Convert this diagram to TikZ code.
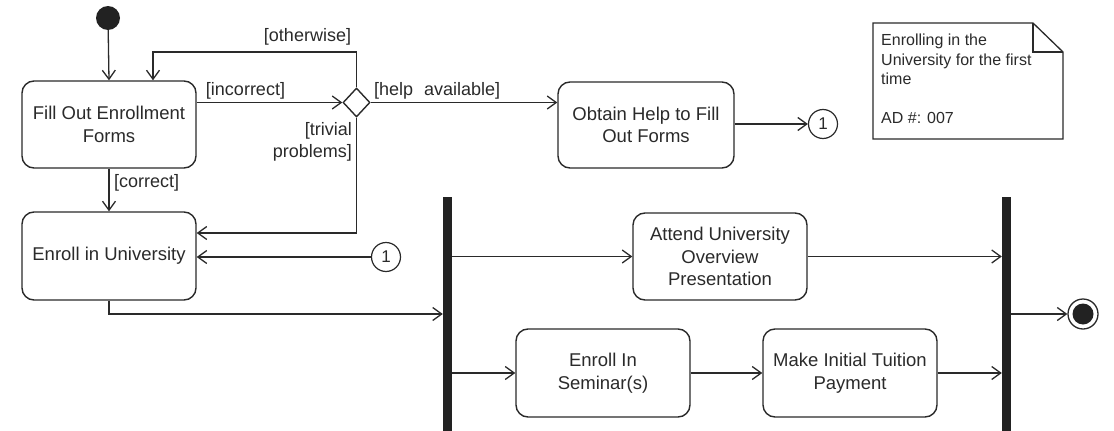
\documentclass[tikz,border=0pt]{standalone}
\usepackage{fontspec}
\setmainfont{Liberation Sans}
\usetikzlibrary{arrows.meta,shapes.geometric}
\definecolor{ink}{HTML}{2A2A2A}
\definecolor{barfill}{HTML}{222222}
\tikzset{
  flow/.style={draw=ink, line width=1.3pt, -{Straight Barb[length=9pt,width=13pt,line width=1.3pt]}},
  wire/.style={draw=ink, line width=1.3pt},
  action/.style={draw=ink, line width=1.4pt, rounded corners=12pt, align=center,
    text=ink, font=\fontsize{18.5}{22.5}\selectfont, inner sep=0pt},
  guard/.style={text=ink, font=\fontsize{18}{22}\selectfont, inner sep=0pt},
  syncbar/.style={fill=barfill, draw=none, minimum width=9pt, minimum height=234pt, inner sep=0pt},
  decision/.style={diamond, draw=ink, line width=1.4pt, minimum width=27pt, minimum height=29pt, inner sep=0pt},
  connector/.style={circle, draw=ink, line width=1.2pt, minimum size=29pt, inner sep=0pt,
    text=ink, font=\fontsize{17}{17}\selectfont},
}
\begin{document}
\begin{tikzpicture}[x=1pt,y=-1pt]
\useasboundingbox (0,0) rectangle (1114,431);

% start and end
\node[circle, fill=barfill, minimum size=24pt, inner sep=0pt] (init) at (108,18) {};
\node[circle, draw=ink, line width=1.3pt, minimum size=30pt, inner sep=0pt] (final) at (1083,314) {};
\node[circle, fill=barfill, minimum size=21pt, inner sep=0pt] (finalcore) at (1083,314) {};

% actions
\node[action, minimum width=174pt, minimum height=87pt] (fill) at (109,124.5) {Fill Out Enrollment\\Forms};
\node[action, minimum width=174pt, minimum height=88pt] (enroll) at (109,256) {Enroll in University};
\node[action, minimum width=176pt, minimum height=86pt] (help) at (646,125) {Obtain Help to Fill\\Out Forms};
\node[action, minimum width=174pt, minimum height=87pt] (attend) at (720,256.5) {Attend University\\Overview\\Presentation};
\node[action, minimum width=174pt, minimum height=88pt] (seminar) at (603,373) {Enroll In\\Seminar(s)};
\node[action, minimum width=174pt, minimum height=88pt] (payment) at (850,373) {Make Initial Tuition\\Payment};

% decision, connectors, fork and join
\node[decision] (dec) at (356.5,102.5) {};
\node[connector] (conout) at (823,124) {1};
\node[connector] (conin) at (386,257) {1};
\node[syncbar] (fork) at (447.5,314) {};
\node[syncbar] (join) at (1006.5,314) {};

% routing points
\coordinate (owc) at (153,52);
\coordinate (tpc) at (356.5,233);

% transitions
\draw[flow] (init) -- (fill.north);
\draw[flow] (dec.north) |- (owc) -- (owc |- fill.north);
\draw[flow] (fill.east |- dec.west) -- (dec.west);
\draw[flow] (dec.east) -- (help.west |- dec.east);
\draw[flow] (help.east |- conout.west) -- (conout.west);
\draw[flow] (dec.south) -- (tpc) -- (tpc -| enroll.east);
\draw[flow] (conin.west) -- (conin.west -| enroll.east);
\draw[flow] (fill.south) -- (enroll.north);
\draw[flow] (enroll.south) |- (fork.west);
\draw[flow] (fork.east |- attend.west) -- (attend.west);
\draw[flow] (fork.east |- seminar.west) -- (seminar.west);
\draw[flow] (seminar.east) -- (payment.west);
\draw[flow] (attend.east) -- (attend.east -| join.west);
\draw[flow] (payment.east) -- (payment.east -| join.west);
\draw[flow] (join.east) -- (final.west);

% guards
\node[guard] (gotherwise) at (307.5,37) {[otherwise]};
\node[guard] (gincorrect) at (245.5,91) {[incorrect]};
\node[guard, anchor=west] (ghelp) at (374,91) {[help\hspace{0.6em}available]};
\node[guard, anchor=east, align=right] (gtrivial) at (352,142) {[trivial\\problems]};
\node[guard, anchor=west] (gcorrect) at (114,183) {[correct]};

% note
\draw[wire] (873,23) -- (1033,23) -- (1063,52) -- (1063,139) -- (873,139) -- cycle;
\draw[wire] (1033,23) -- (1033,52) -- (1063,52);
\node[anchor=north west, align=left, text=ink, inner sep=0pt,
      font=\fontsize{16}{19.5}\selectfont] (notetext) at (881,34)
  {Enrolling in the\\University for the first\\time\\[19.5pt]AD \#: 007};
\end{tikzpicture}
\end{document}
